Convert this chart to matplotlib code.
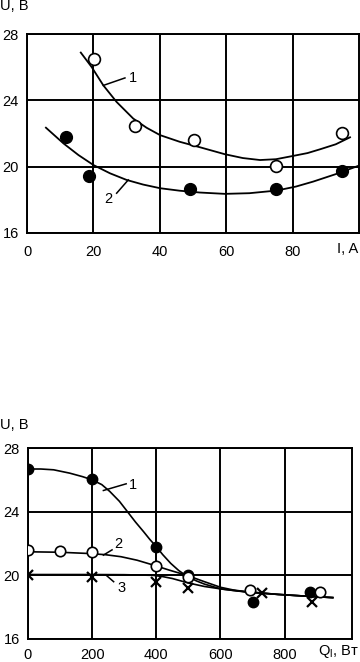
import matplotlib
matplotlib.use("Agg")
import matplotlib.pyplot as plt

plt.rcParams['font.family'] = ['Liberation Sans', 'DejaVu Sans']
plt.rcParams['mathtext.fontset'] = 'custom'
plt.rcParams['mathtext.rm'] = 'Liberation Sans'

# ---- Top chart data: U vs I ----
top_xticks = [0, 20, 40, 60, 80]
top_yticks = [16, 20, 24, 28]
top_open_x = [20.2, 32.5, 50.3, 74.9, 94.8]
top_open_y = [26.5, 22.45, 21.6, 20.05, 22.05]
top_fill_x = [11.8, 18.6, 49.0, 75.0, 94.9]
top_fill_y = [21.8, 19.45, 18.68, 18.64, 19.74]
top_c1_x = [16.2, 19.5, 23.0, 27.0, 32.0, 36.0, 40.1, 46.0, 52.1, 59.6, 65.0, 70.2, 75.0, 80.2, 84.5, 88.3, 93.0, 97.3]
top_c1_y = [26.88, 26.0, 24.9, 23.9, 22.9, 22.35, 21.9, 21.5, 21.17, 20.75, 20.52, 20.4, 20.45, 20.65, 20.82, 21.05, 21.35, 21.77]
top_c2_x = [5.7, 11.0, 15.5, 20.0, 25.0, 30.0, 35.0, 40.1, 46.0, 52.1, 59.6, 67.0, 75.2, 81.0, 86.2, 93.0, 99.8]
top_c2_y = [22.35, 21.4, 20.7, 20.1, 19.6, 19.2, 18.92, 18.7, 18.55, 18.44, 18.36, 18.4, 18.56, 18.8, 19.1, 19.55, 20.05]

# ---- Bottom chart data: U vs Q ----
bot_xticks = [0, 200, 400, 600, 800]
bot_yticks = [16, 20, 24, 28]
bot_s1_x = [0, 200, 400, 500, 700, 880]
bot_s1_y = [26.68, 26.05, 21.78, 20.0, 18.3, 18.95]
bot_s2_x = [0, 100, 200, 400, 500, 692, 909]
bot_s2_y = [21.6, 21.55, 21.45, 20.6, 19.87, 19.1, 18.95]
bot_s3_x = [0, 200, 400, 500, 729, 886]
bot_s3_y = [20.0, 19.9, 19.56, 19.2, 18.9, 18.34]
bot_c1_x = [0, 40, 80, 130, 170, 200, 230, 255, 285, 310, 335, 360, 380, 400, 420, 445, 470, 495, 525, 550, 600, 640, 680, 730, 780, 860, 950]
bot_c1_y = [26.68, 26.68, 26.63, 26.42, 26.2, 26.0, 25.7, 25.27, 24.65, 24.0, 23.35, 22.75, 22.25, 21.8, 21.3, 20.75, 20.3, 19.95, 19.65, 19.45, 19.15, 19.05, 18.95, 18.87, 18.8, 18.7, 18.6]
bot_c2_x = [0, 100, 180, 240, 290, 340, 390, 440, 495, 550, 600, 640, 680, 780, 860, 950]
bot_c2_y = [21.48, 21.45, 21.38, 21.3, 21.17, 20.95, 20.65, 20.33, 20.0, 19.6, 19.25, 19.08, 18.97, 18.8, 18.7, 18.6]
bot_c3_x = [0, 100, 200, 300, 390, 420, 450, 475, 500, 550, 600, 640, 680, 780, 860, 950]
bot_c3_y = [20.05, 20.05, 20.05, 20.04, 20.0, 19.92, 19.8, 19.66, 19.52, 19.3, 19.15, 19.05, 18.97, 18.8, 18.7, 18.6]

W, H = 360, 662
fig = plt.figure(figsize=(W / 100, H / 100), dpi=100)
fs = 10.5


def style(ax, xlim, ylim, xt, yt, xpad):
    ax.set_xlim(*xlim)
    ax.set_ylim(*ylim)
    ax.set_xticks(xt)
    ax.set_yticks(yt)
    ax.tick_params(length=0, labelsize=fs, pad=6, colors='black')
    ax.tick_params(axis='x', pad=xpad)
    ax.grid(True, color='black', linewidth=1.4)
    for s in ax.spines.values():
        s.set_linewidth(1.4)
        s.set_color('black')
    ax.set_axisbelow(True)


# Top axes
ax1 = fig.add_axes([27 / W, 1 - 233 / H, 332 / W, 199 / H])
style(ax1, (0, 100), (16, 28), top_xticks, top_yticks, 9)
ax1.plot(top_c1_x, top_c1_y, color='black', lw=1.3, zorder=3)
ax1.plot(top_c2_x, top_c2_y, color='black', lw=1.3, zorder=3)
ax1.plot(top_open_x, top_open_y, 'o', ms=8.5, mfc='white', mec='black', mew=1.2, zorder=4)
ax1.plot(top_fill_x, top_fill_y, 'o', ms=8.5, mfc='black', mec='black', zorder=4)
ax1.plot([23, 29.5], [24.9, 25.35], color='black', lw=1.1, zorder=3)
ax1.text(31.8, 25.35, '1', fontsize=fs, ha='center', va='center', zorder=5)
ax1.plot([27, 30.5], [18.4, 19.2], color='black', lw=1.1, zorder=3)
ax1.text(24.4, 18.05, '2', fontsize=fs, ha='center', va='center', zorder=5)
fig.text(358 / W, 1 - 249 / H, 'I, A', fontsize=fs, ha='right', va='center')
fig.text(0 / W, 1 - 6 / H, 'U, B', fontsize=fs, ha='left', va='center')

# Bottom axes
ax2 = fig.add_axes([28 / W, 1 - 639 / H, 324 / W, 191 / H])
style(ax2, (0, 1010), (16, 28), bot_xticks, bot_yticks, 6.5)
ax2.plot(bot_c1_x, bot_c1_y, color='black', lw=1.2, zorder=3)
ax2.plot(bot_c2_x, bot_c2_y, color='black', lw=1.2, zorder=3)
ax2.plot(bot_c3_x, bot_c3_y, color='black', lw=1.2, zorder=3)
ax2.plot(bot_s1_x, bot_s1_y, 'o', ms=7.5, mfc='black', mec='black', zorder=4)
ax2.plot(bot_s2_x, bot_s2_y, 'o', ms=7.5, mfc='white', mec='black', mew=1.2, zorder=5)
ax2.plot(bot_s3_x, bot_s3_y, 'x', ms=7, mec='black', mew=1.6, zorder=6)
ax2.plot([235, 306], [25.33, 25.75], color='black', lw=1.1, zorder=3)
ax2.text(326, 25.7, '1', fontsize=fs, ha='center', va='center', zorder=5)
ax2.plot([235, 262], [21.27, 21.6], color='black', lw=1.1, zorder=3)
ax2.text(281, 22.0, '2', fontsize=fs, ha='center', va='center', zorder=5)
ax2.plot([244, 267], [20.0, 19.6], color='black', lw=1.1, zorder=3)
ax2.text(291, 19.2, '3', fontsize=fs, ha='center', va='center', zorder=5)
fig.text(359 / W, 1 - 652 / H, r'Q$_\mathregular{l}$, Вт', fontsize=fs, ha='right', va='center')
fig.text(0 / W, 1 - 425 / H, 'U, B', fontsize=fs, ha='left', va='center')

fig.savefig('out.png', dpi=100)
